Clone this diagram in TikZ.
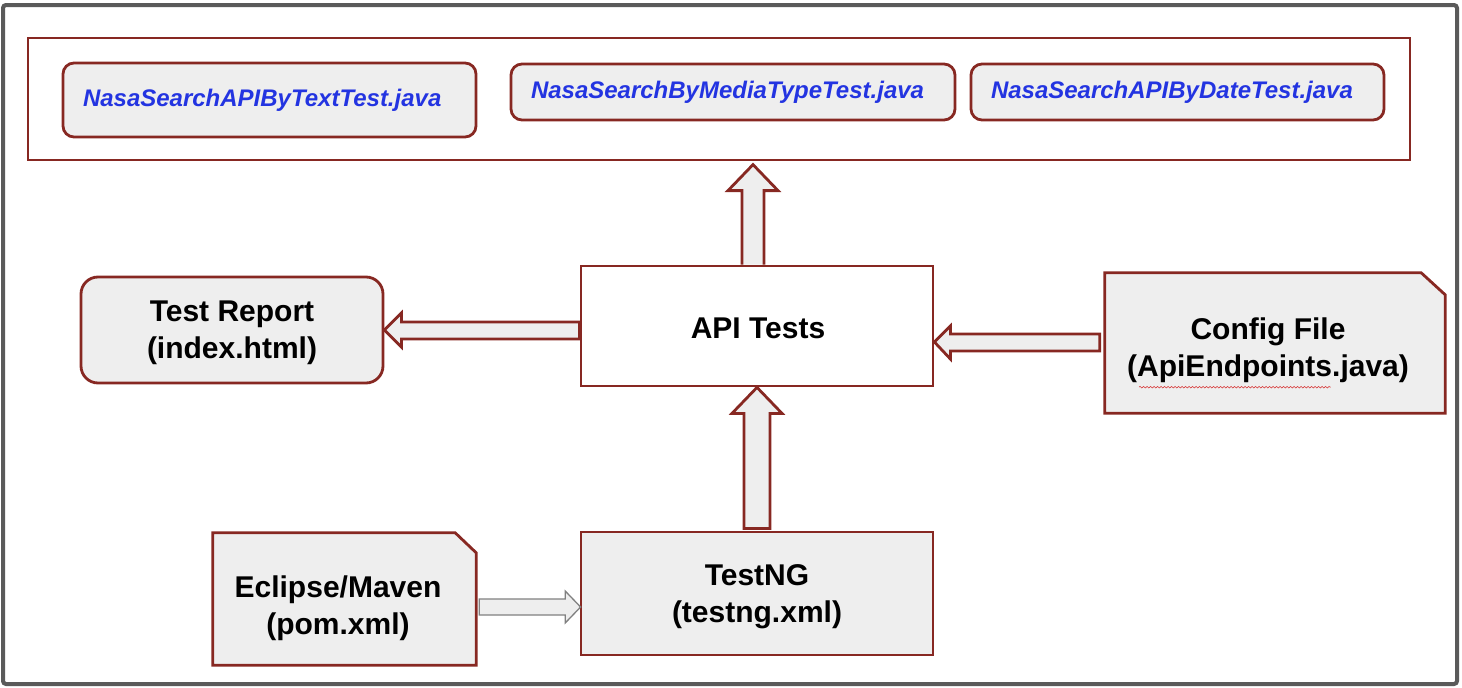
\documentclass[tikz,border=0pt]{standalone}
\usepackage{fontspec}
\setmainfont{Liberation Sans}
\usetikzlibrary{calc,backgrounds,decorations.pathmorphing}
\definecolor{bord}{RGB}{135,40,34}
\definecolor{boxfill}{RGB}{238,238,238}
\definecolor{jblue}{RGB}{35,52,225}
\definecolor{framegray}{RGB}{90,90,90}
\definecolor{garrow}{RGB}{128,128,128}
\definecolor{squig}{RGB}{215,60,60}
\begin{document}
\begin{tikzpicture}[x=1pt,y=-1pt,
  redline/.style={draw=bord, line width=2.8pt},
  javabox/.style={redline, fill=boxfill, rounded corners=11pt, inner xsep=20pt, inner ysep=0pt, align=left,
    font=\fontsize{24}{28}\selectfont\bfseries\itshape, text=jblue},
  mainbox/.style={redline, inner sep=0pt, align=center, font=\fontsize{30}{37}\selectfont\bfseries},
  lbl/.style={inner sep=0pt, align=center, font=\fontsize{30}{37}\selectfont\bfseries},
  shapebox/.style={inner sep=0pt},
  barrow/.style={draw=bord, line width=2.8pt, fill=boxfill, line join=miter},
  grayarrow/.style={draw=garrow, line width=1.3pt, fill=boxfill, line join=miter},
]
\useasboundingbox (0,0) rectangle (1462,688);
\draw[draw=framegray, line width=4pt, rounded corners=3pt] (3,5) rectangle (1457,684);

% top container and test classes
\node[redline, inner sep=0pt, minimum width=1382pt, minimum height=122pt] (top) at (719,99) {};
\node[javabox, text width=373pt, minimum height=74pt] (t1) at (269.5,100) {NasaSearchAPIByTextTest.java};
\node[javabox, text width=404pt, minimum height=56pt] (t2) at (733,92) {NasaSearchByMediaTypeTest.java};
\node[javabox, text width=373pt, minimum height=56pt] (t3) at (1177.5,92) {NasaSearchAPIByDateTest.java};

% main boxes
\node[mainbox, fill=white, minimum width=352pt, minimum height=120pt] (api) at (757,326) {};
\node[lbl] (apitext) at (758,328) {API Tests};
\node[mainbox, fill=boxfill, rounded corners=17pt, minimum width=302pt, minimum height=106pt] (rep) at (232,330) {};
\node[lbl] (reptext) at (232,333) {Test Report\\(index.html)};
\node[mainbox, fill=boxfill, minimum width=352pt, minimum height=123pt] (tng) at (757,593.5) {};
\node[lbl] (tngtext) at (757,597) {TestNG\\(testng.xml)};

% file-shaped boxes
\node[shapebox, minimum width=340pt, minimum height=140pt] (cfg) at (1275,343) {};
\node[lbl] (cfgtext) at (1268,350.5) {Config File\\(ApiEndpoints.java)};
\node[shapebox, minimum width=263pt, minimum height=132pt] (ecl) at (344.5,599) {};
\node[lbl] (ecltext) at (338,608) {Eclipse/Maven\\(pom.xml)};

\begin{scope}[on background layer]
\draw[redline, fill=boxfill] (cfg.south west) -- (cfg.north west) -- ($(cfg.north east)+(-24,0)$)
  -- ($(cfg.north east)+(0,22)$) -- (cfg.south east) -- cycle;
\draw[redline, fill=boxfill] (ecl.south west) -- (ecl.north west) -- ($(ecl.north east)+(-21,0)$)
  -- ($(ecl.north east)+(0,20)$) -- (ecl.south east) -- cycle;
\end{scope}

% spell-check squiggle
\draw[squig, line width=0.6pt, decoration={snake, amplitude=0.8pt, segment length=3.5pt}, decorate]
  ($(cfgtext.south west)+(12,4)$) -- ($(cfgtext.south west)+(204,4)$);

% block arrows
\draw[barrow] ($(api.north)+(-15,0)$) -- ++(0,-74) -- ++(-14,0) -- ++(25,-26) -- ++(25,26) -- ++(-14,0) -- ++(0,74);
\draw[barrow] (api.south) -- ++(25,26) -- ++(-12,0) -- ++(0,115) -- ++(-26,0) -- ++(0,-115) -- ++(-12,0) -- cycle;
\draw[barrow] (rep.east) -- ++(17,-17) -- ++(0,9) -- ($(api.west)+(0,-4)$) -- ($(api.west)+(0,13)$)
  -- ($(rep.east)+(17,9)$) -- ($(rep.east)+(17,17)$) -- cycle;
\draw[barrow] ($(api.east)+(0,16)$) -- ++(16,-16) -- ++(0,8) -- ($(cfg.west)+(-5,-9)$) -- ($(cfg.west)+(-5,8)$)
  -- ($(api.east)+(16,25)$) -- ($(api.east)+(16,33)$) -- cycle;
\draw[grayarrow] ($(ecl.east)+(3,0)$) -- ++(86,0) -- ++(0,-8) -- ($(tng.west)+(1,13.5)$) -- ($(ecl.east)+(89,24)$)
  -- ++(0,-8) -- ++(-86,0) -- cycle;
\end{tikzpicture}
\end{document}
